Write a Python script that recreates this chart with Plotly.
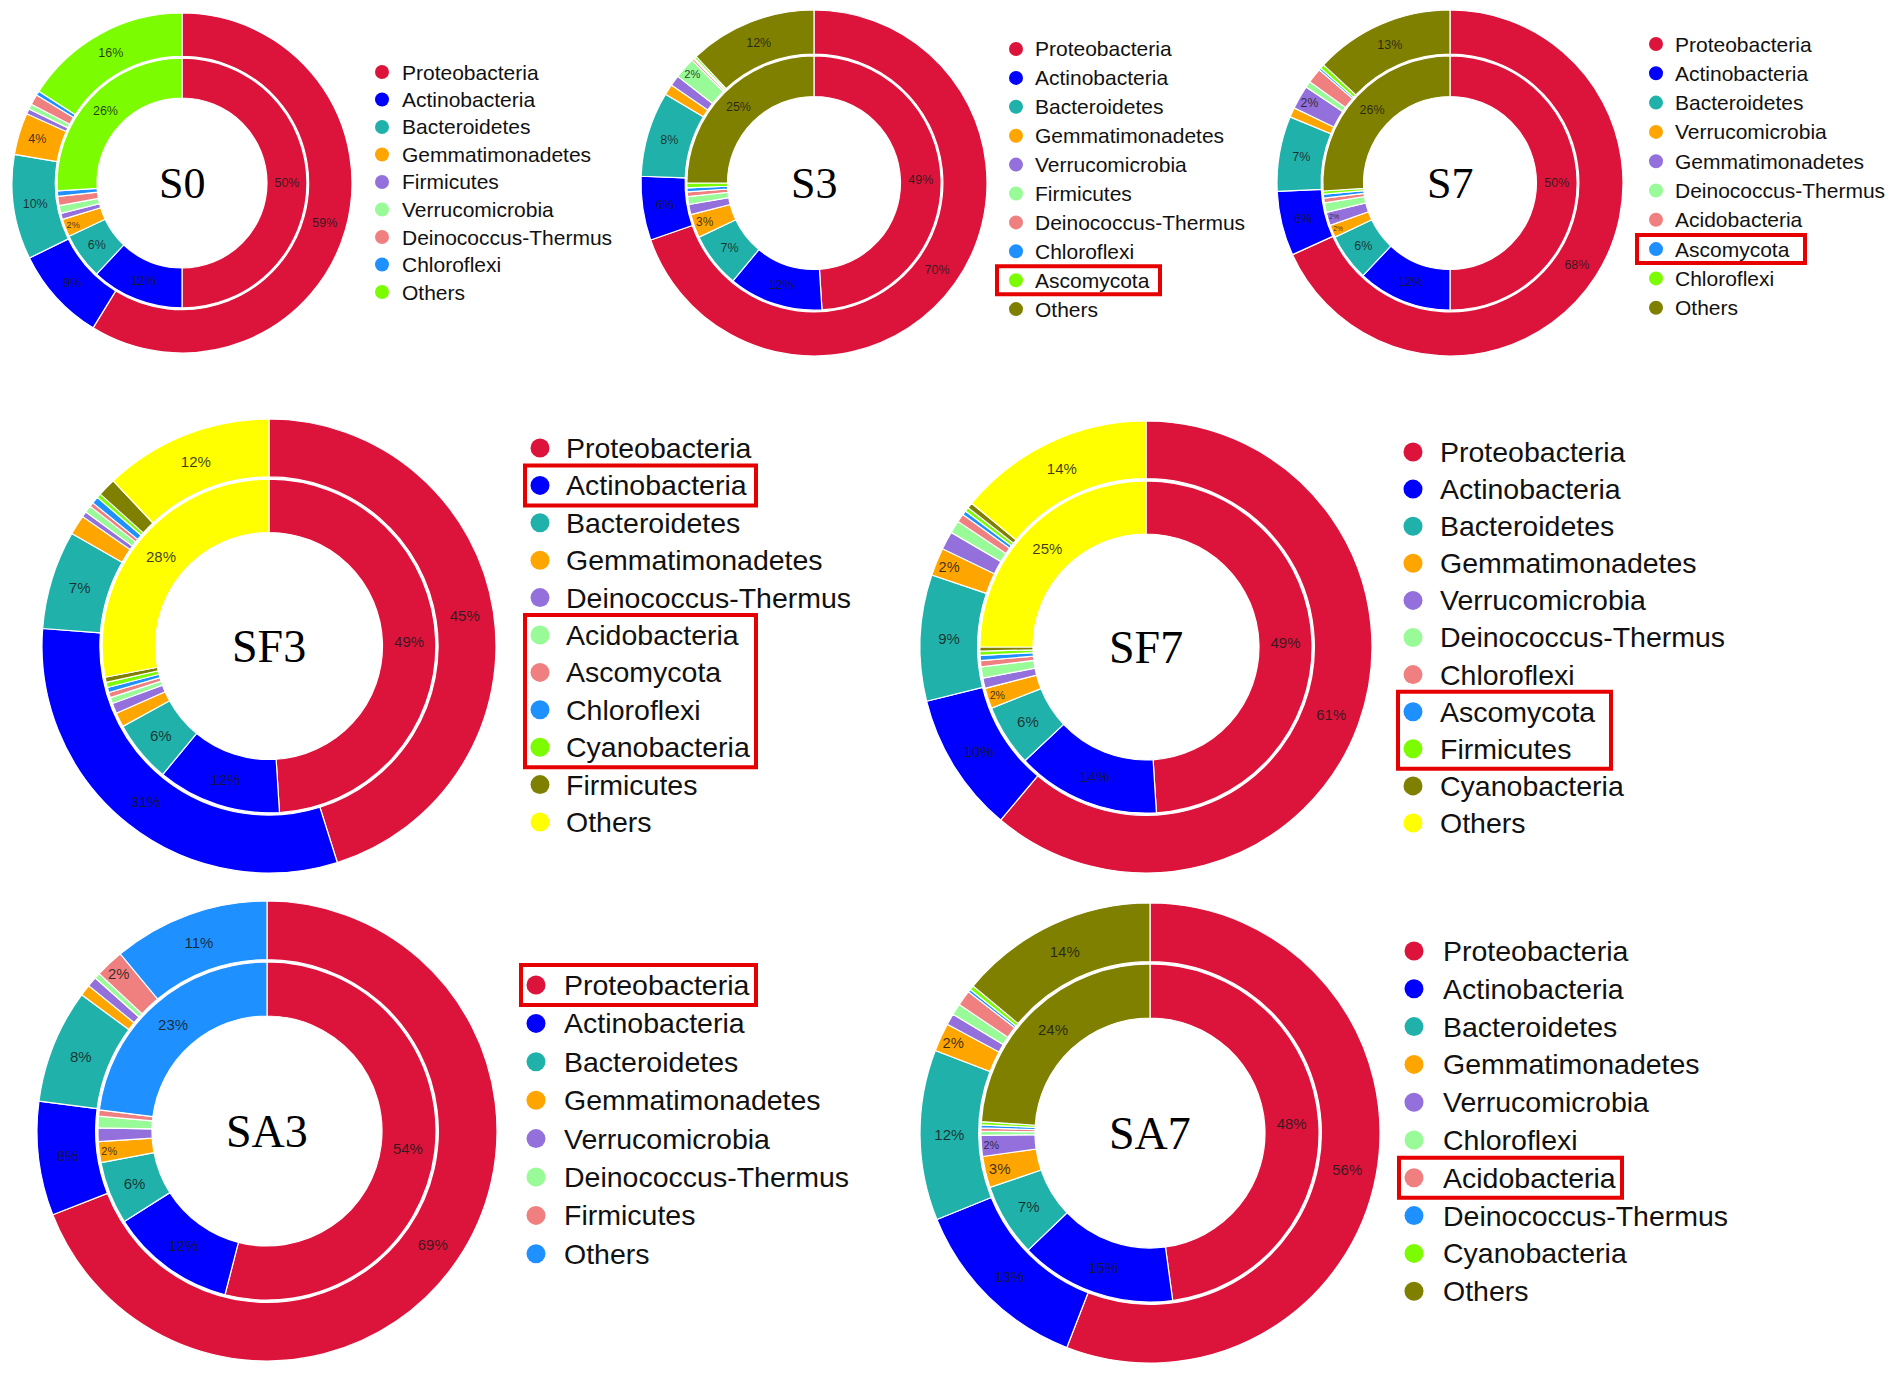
import plotly.graph_objects as go

# ---- data: relative abundance (%) per sample, inner ring and outer ring ----
S0_labels = ["Proteobacteria", "Actinobacteria", "Bacteroidetes", "Gemmatimonadetes", "Firmicutes",
             "Verrucomicrobia", "Deinococcus-Thermus", "Chloroflexi", "Others"]
S0_inner = [50, 12, 6, 2.3, 0.8, 1.0, 1.2, 0.7, 26]
S0_outer = [59, 9, 10, 4, 0.5, 0.5, 1.0, 0.4, 16]

S3_labels = ["Proteobacteria", "Actinobacteria", "Bacteroidetes", "Gemmatimonadetes", "Verrucomicrobia",
             "Firmicutes", "Deinococcus-Thermus", "Chloroflexi", "Ascomycota", "Others"]
S3_inner = [49, 12, 7, 3, 1.3, 1.0, 0.6, 0.5, 0.6, 25]
S3_outer = [70, 6, 8, 1.0, 1.0, 2.0, 0.2, 0.1, 0.2, 12]

S7_labels = ["Proteobacteria", "Actinobacteria", "Bacteroidetes", "Verrucomicrobia", "Gemmatimonadetes",
             "Deinococcus-Thermus", "Acidobacteria", "Ascomycota", "Chloroflexi", "Others"]
S7_inner = [50, 12, 6, 1.6, 1.7, 1.2, 0.6, 0.5, 0.4, 26]
S7_outer = [68, 6, 7, 0.9, 2.2, 0.6, 1.4, 0.2, 0.4, 13]

SF3_labels = ["Proteobacteria", "Actinobacteria", "Bacteroidetes", "Gemmatimonadetes", "Deinococcus-Thermus",
              "Acidobacteria", "Ascomycota", "Chloroflexi", "Cyanobacteria", "Firmicutes", "Others"]
SF3_inner = [49, 12, 6, 1.4, 1.0, 0.6, 0.5, 0.5, 0.5, 0.5, 28]
SF3_outer = [45, 31, 7, 1.4, 0.4, 0.5, 0.3, 0.5, 0.3, 1.3, 12]

SF7_labels = ["Proteobacteria", "Actinobacteria", "Bacteroidetes", "Gemmatimonadetes", "Verrucomicrobia",
              "Deinococcus-Thermus", "Chloroflexi", "Ascomycota", "Firmicutes", "Cyanobacteria", "Others"]
SF7_inner = [49, 14, 6, 2, 1.0, 1.1, 0.6, 0.5, 0.4, 0.4, 25]
SF7_outer = [61, 10, 9, 2, 1.3, 0.9, 0.6, 0.3, 0.3, 0.4, 14]

SA3_labels = ["Proteobacteria", "Actinobacteria", "Bacteroidetes", "Gemmatimonadetes", "Verrucomicrobia",
              "Deinococcus-Thermus", "Firmicutes", "Others"]
SA3_inner = [54, 12, 6, 2, 1.3, 1.1, 0.6, 23]
SA3_outer = [69, 8, 8, 0.8, 0.7, 0.4, 2, 11]

SA7_labels = ["Proteobacteria", "Actinobacteria", "Bacteroidetes", "Gemmatimonadetes", "Verrucomicrobia",
              "Chloroflexi", "Acidobacteria", "Deinococcus-Thermus", "Cyanobacteria", "Others"]
SA7_inner = [48, 15, 7, 3, 2, 0.4, 0.3, 0.3, 0.3, 24]
SA7_outer = [56, 13, 12, 2, 0.8, 0.8, 1.1, 0.2, 0.3, 14]

charts = [
    ("S0", S0_labels, S0_inner, S0_outer),
    ("S3", S3_labels, S3_inner, S3_outer),
    ("S7", S7_labels, S7_inner, S7_outer),
    ("SF3", SF3_labels, SF3_inner, SF3_outer),
    ("SF7", SF7_labels, SF7_inner, SF7_outer),
    ("SA3", SA3_labels, SA3_inner, SA3_outer),
    ("SA7", SA7_labels, SA7_inner, SA7_outer),
]

# colours go by position in each legend, not by phylum
palette = ["#DC143C", "#0000FF", "#20B2AA", "#FFA500", "#9370DB", "#98FB98",
           "#F08080", "#1E90FF", "#7CFC00", "#808000", "#FFFF00"]

# ---- layout, in pixels of the 1902 x 1373 canvas ----
W, H = 1902, 1373
small = dict(leg_font=21, dot=14, pct=12.5, pad=14, title=44)
large = dict(leg_font=28.5, dot=19, pct=15, pad=20, title=46)
geom = {
    # centre x, centre y, radius, legend dot x, legend text x, first row y, row step
    "S0": (182, 183, 170, 382, 400, 72, 27.5, small),
    "S3": (814, 183, 173, 1016, 1033, 49, 28.9, small),
    "S7": (1450, 183, 173, 1656, 1673, 44, 29.3, small),
    "SF3": (269, 646, 227, 540, 564, 448, 37.4, large),
    "SF7": (1146, 647, 226, 1413, 1438, 452, 37.1, large),
    "SA3": (267, 1131, 230, 536, 562, 985, 38.4, large),
    "SA7": (1150, 1133, 230, 1414, 1441, 951, 37.8, large),
}
# red highlight boxes: sample, first row, last row, right edge
boxes = [("S3", 8, 8, 1160), ("S7", 7, 7, 1805), ("SF3", 1, 1, 756), ("SF3", 5, 8, 756),
         ("SF7", 7, 8, 1611), ("SA3", 0, 0, 756), ("SA7", 6, 6, 1622)]

OUTER_HOLE = 0.745
INNER_EDGE = 0.735
HOLE = 0.5


def px_x(x):
    return x / W


def px_y(y):
    return 1 - y / H


fig = go.Figure()
annotations = []
shapes = []

for name, labels, inner, outer in charts:
    cx, cy, R, dot_x, text_x, row0, step, st = geom[name]
    for vals, scale, hole in ((outer, 1.0, OUTER_HOLE), (inner, INNER_EDGE, HOLE / INNER_EDGE)):
        r = R * scale
        total = sum(vals)
        fig.add_trace(go.Pie(
            name=name,
            labels=labels,
            values=vals,
            sort=False,
            direction="clockwise",
            rotation=0,
            hole=hole,
            domain=dict(x=[px_x(cx - r), px_x(cx + r)], y=[px_y(cy + r), px_y(cy - r)]),
            marker=dict(colors=palette[:len(labels)], line=dict(color="white", width=1.2)),
            texttemplate=["%{percent:.0%}" if v / total >= 0.015 else "" for v in vals],
            textposition="inside",
            insidetextorientation="horizontal",
            textfont=dict(family="Liberation Sans, Arial, sans-serif", size=st["pct"],
                          color="rgba(25,25,25,0.85)"),
            showlegend=False,
            hoverinfo="label+percent",
        ))

    # sample name in the middle
    annotations.append(dict(
        x=px_x(cx), y=px_y(cy), xref="paper", yref="paper", text=name, showarrow=False,
        xanchor="center", yanchor="middle",
        font=dict(family="Liberation Serif, Times New Roman, serif", size=st["title"], color="black"),
    ))

    # legend
    for i, lab in enumerate(labels):
        y = row0 + i * step
        d = st["dot"] / 2
        shapes.append(dict(
            type="circle", xref="paper", yref="paper",
            x0=px_x(dot_x - d), x1=px_x(dot_x + d), y0=px_y(y + d), y1=px_y(y - d),
            fillcolor=palette[i], line=dict(width=0),
        ))
        annotations.append(dict(
            x=px_x(text_x), y=px_y(y), xref="paper", yref="paper", text=lab, showarrow=False,
            xanchor="left", yanchor="middle",
            font=dict(family="Liberation Sans, Arial, sans-serif", size=st["leg_font"], color="#111111"),
        ))

for name, first, last, right in boxes:
    cx, cy, R, dot_x, text_x, row0, step, st = geom[name]
    left = dot_x - (19 if st is small else 15)
    shapes.append(dict(
        type="rect", xref="paper", yref="paper",
        x0=px_x(left), x1=px_x(right),
        y0=px_y(row0 + last * step + st["pad"]), y1=px_y(row0 + first * step - st["pad"]),
        line=dict(color="#E60000", width=4),
    ))

fig.update_layout(
    width=W,
    height=H,
    margin=dict(l=0, r=0, t=0, b=0),
    paper_bgcolor="white",
    plot_bgcolor="white",
    annotations=annotations,
    shapes=shapes,
)

fig.write_html("out.html", config={"displayModeBar": False},
               post_script="document.body.style.margin='0';")
